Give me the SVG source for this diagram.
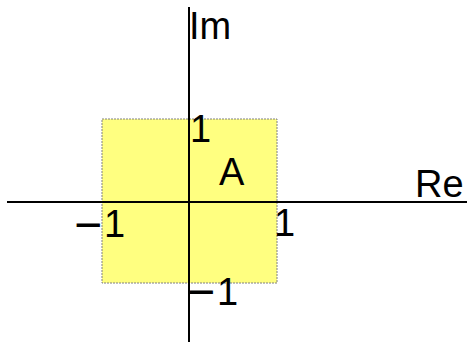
<svg xmlns="http://www.w3.org/2000/svg" width="467" height="342" viewBox="0 0 467 342">
<style>
text{font-family:"Liberation Sans",Arial,sans-serif;font-size:38px;fill:#000}
.minus{font-size:48px}
.axis{stroke:#000;stroke-width:2;fill:none}
</style>
<rect width="467" height="342" fill="#fff"/>
<g id="region">
<rect x="102" y="119" width="175" height="164" fill="#ffff80" stroke="#808080" stroke-width="1" stroke-dasharray="2,1"/>
<text x="219" y="185">A</text>
</g>
<g id="axes">
<line class="axis" x1="7" y1="202" x2="467" y2="202"/>
<line class="axis" x1="189" y1="7" x2="189" y2="342"/>
</g>
<g id="labels">
<text x="189" y="39">Im</text>
<text x="415" y="197">Re</text>
<text x="190" y="142">1</text>
<text x="274" y="236">1</text>
<text x="74" y="241"><tspan class="minus">−</tspan><tspan x="104" y="237">1</tspan></text>
<text x="187" y="308"><tspan class="minus">−</tspan><tspan x="217" y="305">1</tspan></text>
</g>
</svg>
